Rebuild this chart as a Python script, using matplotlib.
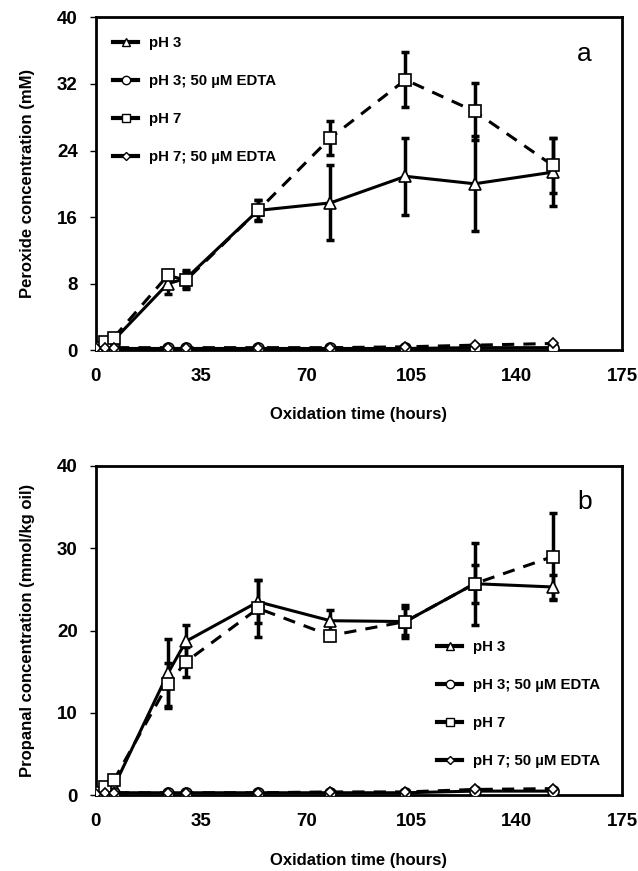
import numpy as np
import matplotlib
matplotlib.use('Agg')
import matplotlib.pyplot as plt

plt.rcParams['font.family'] = ['Liberation Sans', 'DejaVu Sans']

# Oxidation time points (hours)
hours = [0, 3, 6, 24, 30, 54, 78, 103, 126, 152]

# Panel a: peroxide concentration (mM)
perox_ph3 = [0.3, 0.8, 1.2, 8.0, 8.6, 16.8, 17.7, 20.9, 20.0, 21.4]
perox_ph3_err = [0.1, 0.2, 0.2, 1.3, 1.0, 1.3, 4.5, 4.6, 5.7, 4.1]
perox_ph3_edta = [0.2, 0.2, 0.2, 0.2, 0.2, 0.2, 0.2, 0.2, 0.3, 0.3]
perox_ph7 = [0.3, 1.0, 1.5, 9.0, 8.4, 16.8, 25.5, 32.5, 28.7, 22.2]
perox_ph7_err = [0.1, 0.2, 0.3, 0.6, 1.0, 1.2, 2.0, 3.3, 3.4, 3.3]
perox_ph7_edta = [0.2, 0.3, 0.3, 0.3, 0.3, 0.3, 0.3, 0.4, 0.6, 0.8]

# Panel b: propanal concentration (mmol/kg oil)
prop_ph3 = [0.3, 0.8, 1.0, 14.8, 18.7, 23.5, 21.2, 21.1, 25.7, 25.3]
prop_ph3_err = [0.1, 0.2, 0.2, 4.2, 2.0, 2.6, 1.3, 2.0, 2.3, 1.4]
prop_ph3_edta = [0.2, 0.3, 0.3, 0.3, 0.3, 0.3, 0.3, 0.3, 0.5, 0.5]
prop_ph7 = [0.3, 1.0, 1.8, 13.5, 16.2, 22.7, 19.4, 21.1, 25.7, 29.0]
prop_ph7_err = [0.1, 0.2, 0.3, 2.6, 1.8, 3.5, 0.5, 1.6, 5.0, 5.3]
prop_ph7_edta = [0.2, 0.3, 0.3, 0.3, 0.3, 0.3, 0.4, 0.4, 0.7, 0.8]

labels = ['pH 3', 'pH 3; 50 \u00b5M EDTA', 'pH 7', 'pH 7; 50 \u00b5M EDTA']
markers = ['^', 'o', 's', 'D']
styles = ['-', '-', (0, (4, 3)), (0, (4, 3))]


def draw_panel(ax, series, errs, ylabel, yticks, letter, leg_anchor):
    for i, y in enumerate(series):
        ms = 5.5 if markers[i] == 'D' else 8
        if errs[i] is not None:
            ax.errorbar(hours, y, yerr=errs[i], fmt='none', ecolor='black',
                        elinewidth=2.5, capsize=3, capthick=2.5, zorder=2)
        ax.plot(hours, y, linestyle=styles[i], color='black', lw=2.2,
                marker=markers[i], markersize=ms, markerfacecolor='white',
                markeredgecolor='black', markeredgewidth=1.2,
                label=labels[i], zorder=3)
    ax.set_xlim(0, 175)
    ax.set_ylim(yticks[0], yticks[-1])
    ax.set_xticks([0, 35, 70, 105, 140, 175])
    ax.set_yticks(yticks)
    for lbl in ax.get_xticklabels() + ax.get_yticklabels():
        lbl.set_fontweight('bold')
        lbl.set_fontsize(13.5)
    ax.tick_params(direction='out', length=4, width=1, pad=9)
    ax.tick_params(axis='x', length=0, pad=13)
    for sp in ax.spines.values():
        sp.set_linewidth(2)
    ax.set_xlabel('Oxidation time (hours)', fontsize=12, fontweight='bold', labelpad=16)
    ax.set_ylabel(ylabel, fontsize=12, fontweight='bold', labelpad=16)
    ax.text(0.928, 0.891, letter, transform=ax.transAxes, fontsize=19,
            ha='center', va='center')
    # legend handles: short thick line with the open marker in the middle
    leg_handles = []
    for i in range(4):
        lh, = ax.plot([], [], linestyle='-', color='black', lw=3,
                      marker=markers[i], markersize=6 if markers[i] != 'D' else 4.5,
                      markerfacecolor='white', markeredgecolor='black',
                      markeredgewidth=1)
        leg_handles.append(lh)
    ax.legend(leg_handles, labels, loc='center left', bbox_to_anchor=leg_anchor,
              frameon=False, prop={'weight': 'bold', 'size': 10.8},
              handlelength=1.7, labelspacing=1.6, handletextpad=0.7,
              borderaxespad=0)


fig = plt.figure(figsize=(6.38, 8.71), dpi=100)
ax1 = fig.add_axes([0.150, 0.598, 0.825, 0.382])
ax2 = fig.add_axes([0.150, 0.087, 0.825, 0.378])

draw_panel(ax1, [perox_ph3, perox_ph3_edta, perox_ph7, perox_ph7_edta],
           [perox_ph3_err, None, perox_ph7_err, None],
           'Peroxide concentration (mM)', [0, 8, 16, 24, 32, 40], 'a', (0.021, 0.752))
draw_panel(ax2, [prop_ph3, prop_ph3_edta, prop_ph7, prop_ph7_edta],
           [prop_ph3_err, None, prop_ph7_err, None],
           'Propanal concentration (mmol/kg oil)', [0, 10, 20, 30, 40], 'b', (0.637, 0.276))

fig.savefig('out.png', dpi=100)
